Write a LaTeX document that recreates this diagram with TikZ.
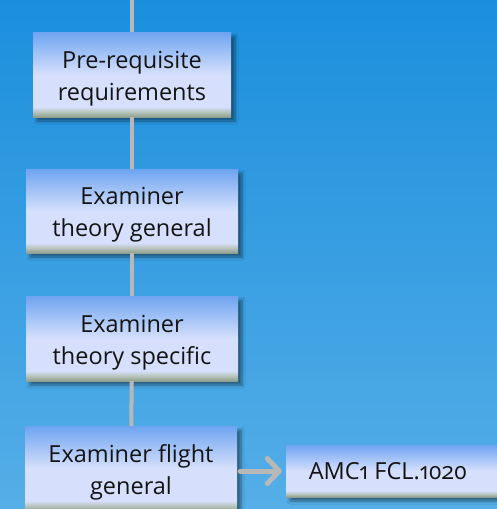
\documentclass[tikz,border=0pt]{standalone}
\usepackage{fontspec}
\setmainfont{Open Sans}[Numbers=OldStyle]
\usetikzlibrary{arrows.meta,shadows,shadows.blur,calc}
\definecolor{bgtop}{HTML}{1B8FDD}
\definecolor{bgbot}{HTML}{55AEE7}
\definecolor{bxtop}{HTML}{6EA4F0}
\definecolor{bxmid}{HTML}{D6E0FC}
\definecolor{bxband}{HTML}{B8C4BC}
\definecolor{bxbot}{HTML}{8E9E8E}
\definecolor{conn}{HTML}{B8B8B8}
\pgfdeclareverticalshading{boxshade}{100bp}{color(0bp)=(bxbot); color(25bp)=(bxbot); color(28bp)=(bxband); color(31bp)=(bxmid); color(50bp)=(bxmid); color(75bp)=(bxtop); color(100bp)=(bxtop)}
\tikzset{
  stepbox/.style={draw=none, shading=boxshade, inner sep=0pt,
    blur shadow={shadow xshift=4pt, shadow yshift=-4pt, shadow blur steps=6,
      shadow blur radius=3pt, shadow opacity=45},
    align=center, font=\fontsize{23.5}{32}\selectfont, text=black!92},
  lowtext/.style={text height=57pt, text depth=6pt},
  connline/.style={draw=conn, line width=4pt},
  connarrow/.style={draw=conn, line width=5pt, line cap=round,
    -{Straight Barb[length=12pt,width=25pt,round]}}
}
\begin{document}
\begin{tikzpicture}[x=1pt,y=-1pt]
\useasboundingbox (0,0) rectangle (497,509);
\shade[top color=bgtop, bottom color=bgbot] (0,0) rectangle (497,509);
\clip (0,0) rectangle (497,509);
\node[stepbox, lowtext, minimum width=198pt, minimum height=85pt] (b1) at (132,74.5) {Pre-requisite\\requirements};
\node[stepbox, lowtext, minimum width=212pt, minimum height=84pt] (b2) at (132,211) {Examiner\\theory general};
\node[stepbox, lowtext, minimum width=212pt, minimum height=85pt] (b3) at (132,338.5) {Examiner\\theory specific};
\node[stepbox, lowtext, minimum width=212pt, minimum height=85pt] (b4) at (131,468.5) {Examiner flight\\general};
\node[stepbox, minimum width=214pt, minimum height=52pt] (b5) at (393,471) {AMC1 FCL.1020\hspace{10pt}};
\coordinate (top) at (132,0);
\draw[connline] (top) -- (b1);
\draw[connline] (b1) -- (b2);
\draw[connline] (b2) -- (b3);
\draw[connline] (b3) -- (b4);
\draw[connarrow, shorten <=3pt, shorten >=4pt] (b4.east |- b5.west) -- (b5.west);
\end{tikzpicture}
\end{document}
